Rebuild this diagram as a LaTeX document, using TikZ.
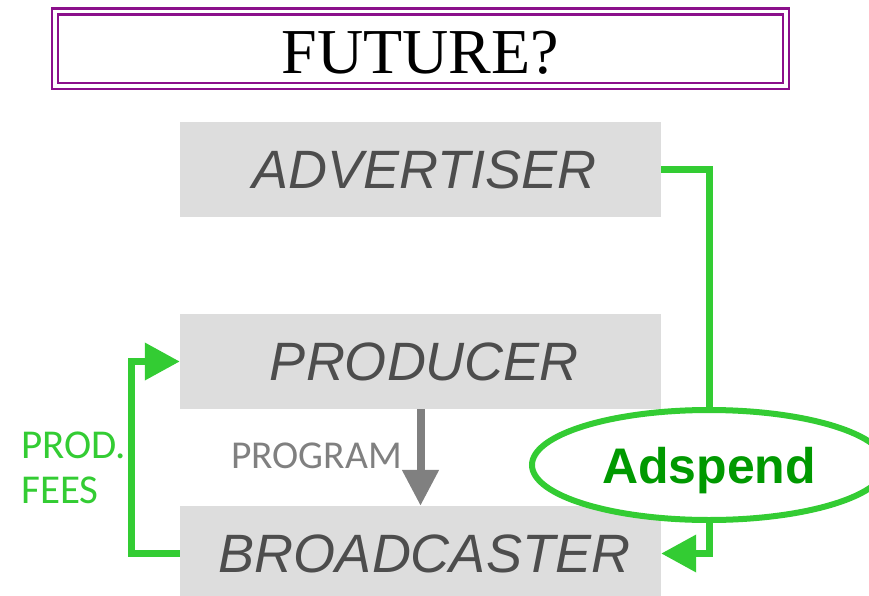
\documentclass[tikz,border=0pt]{standalone}
\usepackage{fontspec}
\setmainfont{Liberation Serif}
\newfontfamily\arialfont{Liberation Sans}
\newfontfamily\calfont{Carlito}
\usetikzlibrary{arrows.meta,shapes.geometric}

\definecolor{framepurple}{RGB}{139,16,139}
\definecolor{boxgray}{HTML}{DDDDDD}
\definecolor{boxtext}{HTML}{4D4D4D}
\definecolor{flowgreen}{HTML}{33CC33}
\definecolor{spendgreen}{HTML}{009900}
\definecolor{proggray}{HTML}{808080}

\tikzset{
  party/.style={rectangle, fill=boxgray, inner sep=0pt,
    minimum width=481pt, minimum height=95pt, text=boxtext,
    execute at begin node=\hspace*{8pt},
    font=\arialfont\itshape\fontsize{54}{60}\selectfont},
  moneyflow/.style={draw=flowgreen, line width=7pt,
    -{Triangle[length=35pt,width=36pt]}},
  greenlabel/.style={text=flowgreen, inner sep=0pt,
    font=\calfont\fontsize{41}{45}\selectfont},
}

\begin{document}
\begin{tikzpicture}[x=1pt,y=-1pt]
  \clip (0,0) rectangle (869,596);

  % title frame with double purple rule
  \node (title) [draw=framepurple, line width=2.6pt, double, double distance=3.4pt,
    minimum width=731pt, minimum height=74.5pt, inner sep=0pt,
    text height=49pt, text depth=0pt,
    font=\fontsize{64}{70}\selectfont] at (420.5,48.75) {FUTURE?};

  % the three parties
  \node (adv)    [party] at (420.5,169.5) {ADVERTISER};
  \node (prod)   [party] at (420.5,361.5) {PRODUCER};
  \node (bcast)  [party] at (420.5,553.5) {BROADCASTER};

  % advertising spend bubble
  \node (ads) [ellipse, draw=flowgreen, fill=white, line width=6pt,
    minimum width=354pt, minimum height=110pt, inner sep=0pt,
    text=spendgreen, text depth=0pt,
    font=\arialfont\bfseries\fontsize{50}{60}\selectfont] at (709,465) {Adspend};

  % advertiser pays the broadcaster through the ad spend
  \draw[draw=flowgreen, line width=7pt] (adv.east) -| (ads.north);
  \draw[moneyflow] (ads.south) |- (bcast.east);

  % broadcaster pays production fees
  \draw[moneyflow] (bcast.west) -- ++(-48,0) |- (prod.west);
  \node (fees1) [greenlabel, anchor=base west] at (21,458) {PROD.};
  \node (fees2) [greenlabel, anchor=base west] at (21,503) {FEES};

  % program delivered to the broadcaster
  \draw[draw=proggray, line width=8pt,
    -{Triangle[length=36pt,width=35pt]}] (prod.south) -- (bcast.north);
  \node (prog) [anchor=base west, inner sep=0pt, text=proggray,
    font=\calfont\fontsize{39.5}{45}\selectfont] at (231,468) {PROGRAM};
\end{tikzpicture}
\end{document}
